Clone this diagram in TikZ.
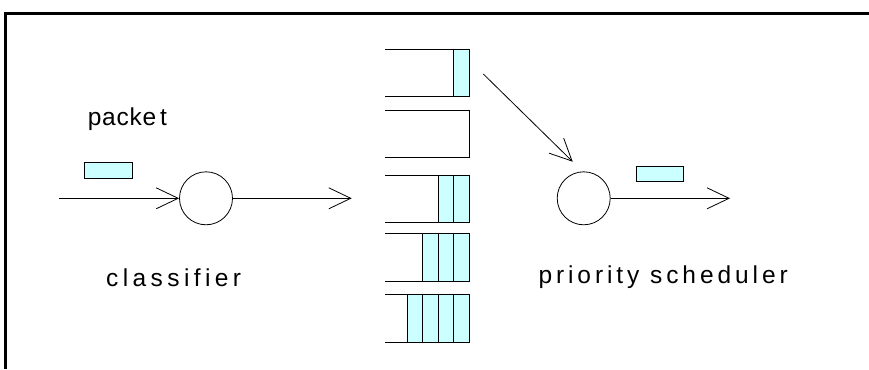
\documentclass[tikz,border=0pt]{standalone}
\usepackage{fontspec}
\setmainfont{Liberation Sans}
\usetikzlibrary{arrows.meta}
\definecolor{pktfill}{HTML}{CCFFFF}
\begin{document}
\begin{tikzpicture}[x=1pt,y=-1pt,
  thin line/.style={line width=0.8pt},
  flow/.style={thin line,-{Straight Barb[length=22pt,width=21pt,line width=0.8pt]}},
  proc/.style={circle,draw,thin line,minimum size=53pt,inner sep=0pt},
  cell/.style={draw,thin line,fill=pktfill},
  label/.style={inner sep=0pt,anchor=base west,font=\fontsize{24.5}{28}\selectfont}
]
\useasboundingbox (0,0) rectangle (869,369);
% open frame: top and left edges
\draw[line width=3pt] (5.5,369) -- (5.5,14) -- (869,14);

% queues: top, right end, bottom; cells stacked from the right end
\def\qleft{385}\def\qright{469}\def\cw{15.5}
\foreach \top/\bot/\n [count=\i] in {49/96/1, 110/157/0, 175/222/2, 233/281/3, 294/342/4}{
  \ifnum\n>0
    \foreach \k in {1,...,\n}{
      \draw[cell] ({\qright-\k*\cw},\top) rectangle ({\qright-(\k-1)*\cw},\bot);
    }
  \fi
  \draw[thin line] (\qleft,\top) -- (\qright,\top) -- (\qright,\bot) -- (\qleft,\bot);
  \coordinate (q\i) at (\qright,{(\top+\bot)/2});
}

% classifier and scheduler
\node[proc] (cls) at (206,198.3) {};
\node[proc] (sch) at (583.7,198.3) {};

\coordinate (in) at (59,198.3);
\coordinate (clsout) at (351.7,198.3);
\coordinate (q1out) at (483.3,74);
\coordinate (schin) at (572.7,161.7);
\coordinate (schout) at (730,198.3);

\draw[flow] (in) -- (cls.west);
\draw[flow] (cls.east) -- (clsout);
\draw[flow] (q1out) -- (schin);
\draw[flow] (sch.east) -- (schout);

% packets in transit
\draw[cell] (84,162) rectangle (132,178);
\draw[cell] (636,166) rectangle (683,181);

% labels
\node[label] (lpkt) at (87.7,125) {\addfontfeatures{LetterSpace=3}packe\kern4pt t};
\node[label] (lcls) at (106,286) {\addfontfeatures{LetterSpace=18}classifier};
\node[label] (lsch) at (538.3,283.3) {\addfontfeatures{LetterSpace=16}priority scheduler};
\end{tikzpicture}
\end{document}
